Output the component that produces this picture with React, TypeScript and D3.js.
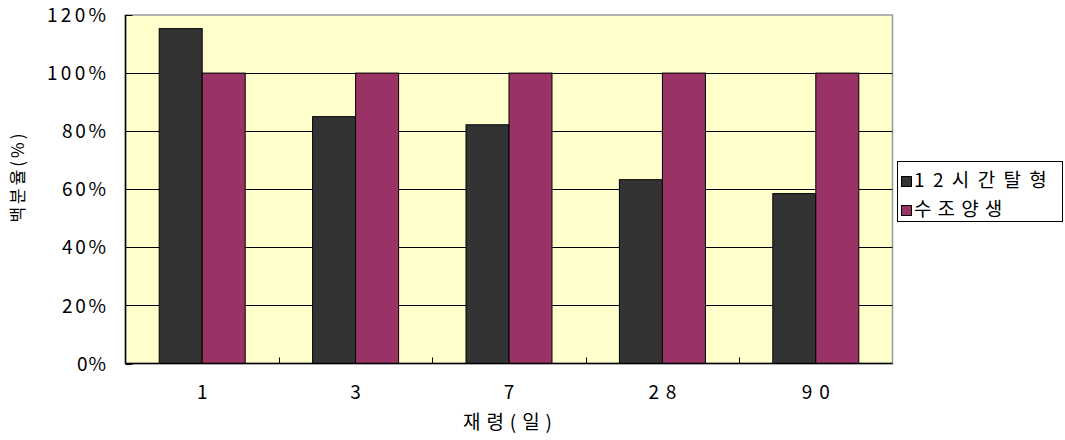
import React from "react";
import * as d3 from "d3";

// Ages (days) and the two curing series, as % of water curing
const categories = ["1", "3", "7", "28", "90"];
const seriesNames = ["12시간탈형", "수조양생"];
const demold12h = [115.3, 85.0, 82.2, 63.3, 58.5];
const waterCuring = [100, 100, 100, 100, 100];
const yTicks = [0, 20, 40, 60, 80, 100, 120];

const colors = ["#333333", "#993366"];
const FONT = "'Noto Sans CJK KR', 'Noto Sans', sans-serif";

// Wide, evenly spaced lettering: stretch each label to a fixed pitch per character
const spaced = (s: string, pitch: number) => (s.length > 1 ? { textLength: s.length * pitch - 1, lengthAdjust: "spacing" } : {});

export default function App() {
  const W = 1065;
  const H = 440;
  const plot = { left: 125.5, right: 892.5, top: 15, bottom: 363.5 };

  const x = d3
    .scaleBand<string>()
    .domain(categories)
    .range([plot.left, plot.right])
    .paddingInner(0)
    .paddingOuter(0);
  const y = d3.scaleLinear().domain([0, 120]).range([plot.bottom, plot.top]);

  const barW = 43;
  const series = [demold12h, waterCuring];

  return (
    <div style={{ position: "absolute", left: 0, top: 0 }}>
      <svg width={W} height={H} style={{ display: "block", background: "#ffffff" }}>
        {/* plot area */}
        <rect
          x={plot.left}
          y={plot.top}
          width={plot.right - plot.left}
          height={plot.bottom - plot.top}
          fill="#FFFFCC"
          stroke="#999999"
          strokeWidth={1.5}
        />
        {/* horizontal gridlines */}
        {yTicks
          .filter((t) => t > 0 && t < 120)
          .map((t) => (
            <line
              key={"g" + t}
              x1={plot.left}
              x2={plot.right}
              y1={Math.round(y(t)) + 0.5}
              y2={Math.round(y(t)) + 0.5}
              stroke="#000"
              strokeWidth={1}
            />
          ))}
        {/* bars */}
        {categories.map((c, i) => {
          const cx = (x(c) as number) + x.bandwidth() / 2;
          return series.map((s, j) => {
            const x0 = cx - barW + j * barW;
            return (
              <rect
                key={c + "-" + j}
                x={x0}
                y={y(s[i])}
                width={barW}
                height={plot.bottom - y(s[i])}
                fill={colors[j]}
                stroke="#000"
                strokeWidth={1}
              />
            );
          });
        })}
        {/* axes */}
        <line x1={plot.left} x2={plot.left} y1={plot.top} y2={plot.bottom} stroke="#000" strokeWidth={1.5} />
        <line x1={plot.left} x2={plot.right} y1={plot.bottom} y2={plot.bottom} stroke="#000" strokeWidth={1.5} />
        {yTicks.map((t) => (
          <line
            key={"yt" + t}
            x1={plot.left}
            x2={plot.left + 7}
            y1={Math.round(y(t)) + 0.5}
            y2={Math.round(y(t)) + 0.5}
            stroke="#000"
            strokeWidth={1}
          />
        ))}
        {categories.slice(1).map((c) => (
          <line
            key={"xt" + c}
            x1={Math.round(x(c) as number) + 0.5}
            x2={Math.round(x(c) as number) + 0.5}
            y1={plot.bottom}
            y2={plot.bottom - 6}
            stroke="#000"
            strokeWidth={1}
          />
        ))}
        {/* y tick labels */}
        {yTicks.map((t) => {
          const s = t + "%";
          return (
            <text
              key={"yl" + t}
              x={106}
              y={y(t) + 2}
              textAnchor="end"
              dominantBaseline="middle"
              fontFamily={FONT}
              fontSize={19}
              fill="#000"
              {...spaced(s, 15)}
            >
              {s}
            </text>
          );
        })}
        {/* x tick labels */}
        {categories.map((c) => (
          <text
            key={"xl" + c}
            x={(x(c) as number) + x.bandwidth() / 2}
            y={394}
            textAnchor="middle"
            dominantBaseline="middle"
            fontFamily={FONT}
            fontSize={19}
            fill="#000"
            {...spaced(c, 14.5)}
          >
            {c}
          </text>
        ))}
        {/* axis titles */}
        <text
          x={507.5}
          y={424}
          textAnchor="middle"
          dominantBaseline="middle"
          fontFamily={FONT}
          fontSize={19}
          fill="#000"
          textLength={89}
          lengthAdjust="spacing"
        >
          재령(일)
        </text>
        <text
          transform={`translate(19, 178) rotate(-90)`}
          textAnchor="middle"
          dominantBaseline="middle"
          fontFamily={FONT}
          fontSize={17}
          fill="#000"
          textLength={89}
          lengthAdjust="spacing"
        >
          백분율(%)
        </text>
        {/* legend */}
        <rect x={897.5} y={161.5} width={165} height={60} fill="#fff" stroke="#000" strokeWidth={1} />
        {seriesNames.map((n, j) => {
          const cy = 182 + j * 29;
          return (
            <g key={n}>
              <rect x={901.5} y={cy - 5.5} width={10} height={10} fill={colors[j]} stroke="#000" strokeWidth={1} />
              <text
                x={914}
                y={cy}
                dominantBaseline="middle"
                fontFamily={FONT}
                fontSize={19}
                fill="#000"
                textLength={n.length * 22.3 - 1}
                lengthAdjust="spacing"
              >
                {n}
              </text>
            </g>
          );
        })}
      </svg>
    </div>
  );
}
